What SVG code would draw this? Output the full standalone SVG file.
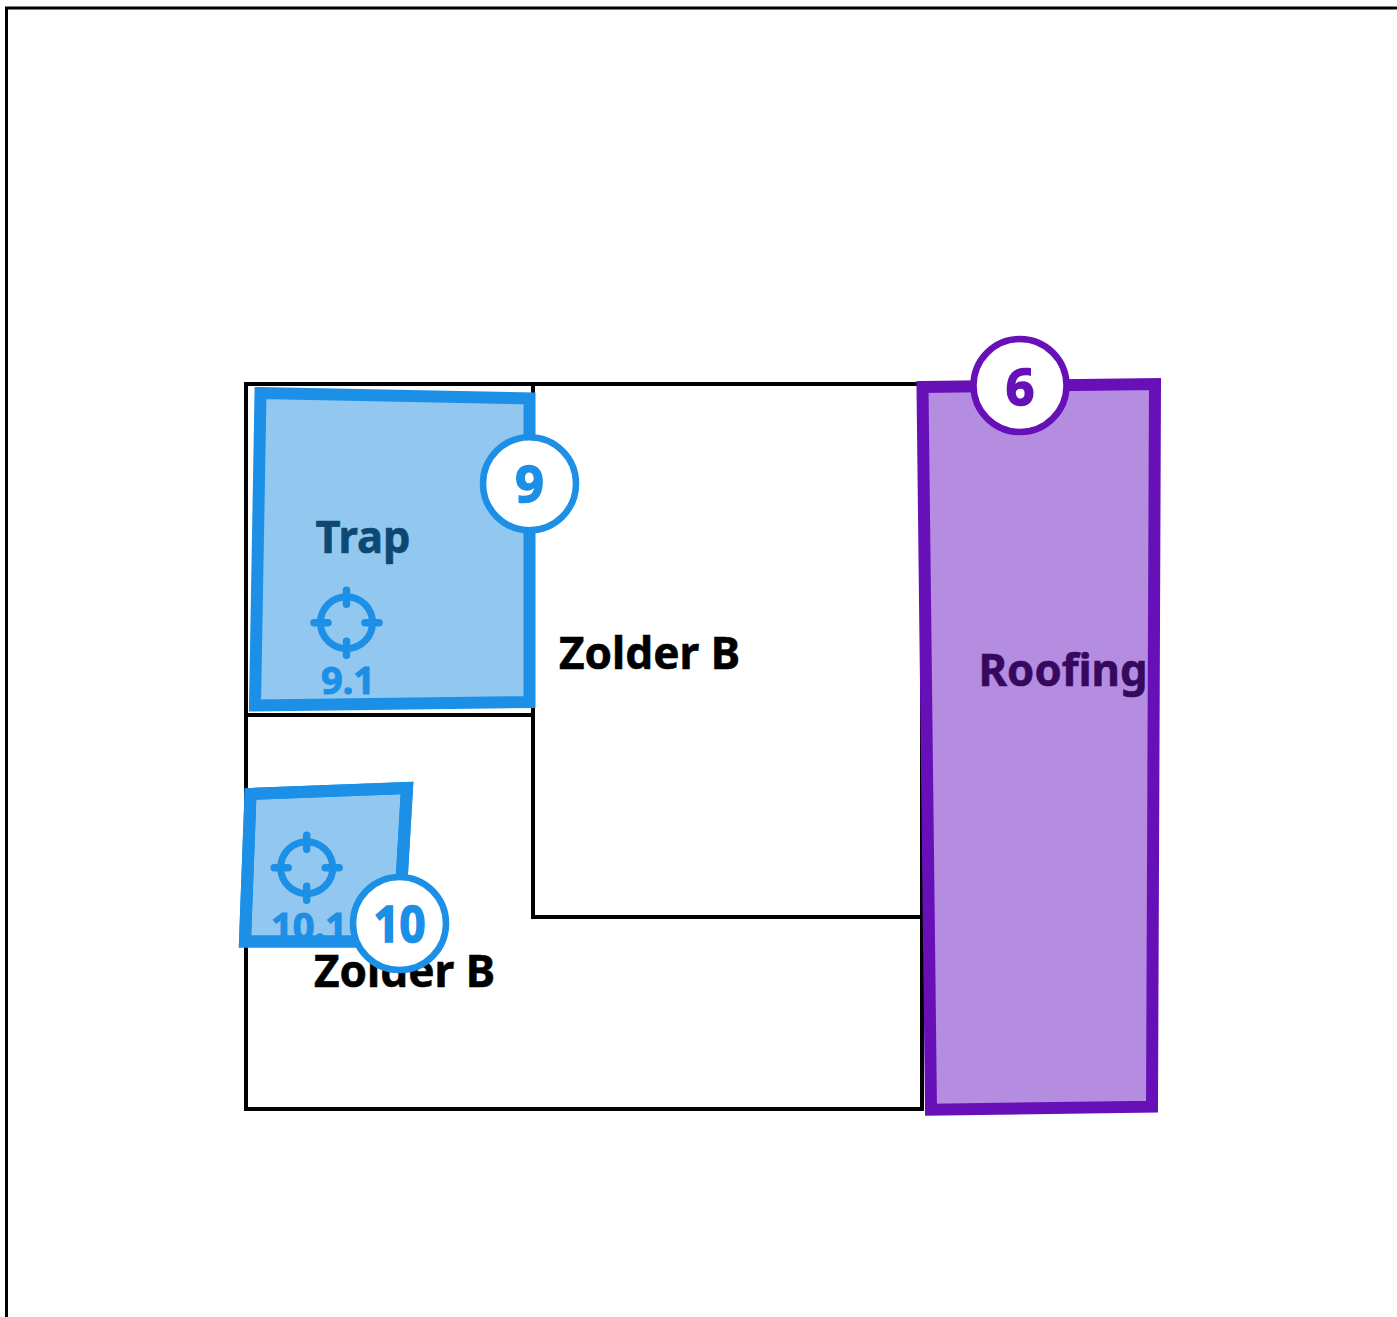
<svg xmlns="http://www.w3.org/2000/svg" width="1397" height="1317" viewBox="0 0 1397 1317">
<style>
text{font-family:"Noto Sans","Open Sans","Liberation Sans",sans-serif;font-weight:700;stroke-width:.6;paint-order:stroke}
.room{fill:#fff;stroke:#000;stroke-width:4}
.blue{fill:#92c8f0;stroke:#1c8fe6;stroke-width:12}
.purple{fill:#b48ce0;stroke:#6810b8;stroke-width:12}
.ring{fill:#fff;stroke-width:6.5}
.lbl{font-size:45px;fill:#000;stroke:#000}
.num{font-size:50px;text-anchor:middle;stroke-width:1.6}
.tgt{fill:none;stroke:#1c8fe6;stroke-width:7}
.tick{stroke:#1c8fe6;stroke-width:7.500;stroke-linecap:round}
.sub{font-size:38px;fill:#1c8fe6;stroke:#1c8fe6;stroke-width:1;text-anchor:middle}
</style>
<defs>
<g id="target">
<circle class="tgt" r="26"/>
<path class="tick" d="M0-32.500V-18.500M0 32.500V18.500M-32.500 0H-18.500M32.500 0H18.500"/>
</g>
</defs>
<rect id="frame" x="6.500" y="8" width="1500" height="1500" fill="#fff" stroke="#000" stroke-width="3"/>
<g id="room-trap"><rect class="room" x="246" y="384" width="287" height="331"/></g>
<g id="room-zolder-b-upper"><rect class="room" x="533" y="384" width="389" height="533"/></g>
<g id="room-zolder-b-lower"><path class="room" d="M246 715H533V917H922V1109H246Z"/></g>
<g id="label-zolder-1"><text class="lbl" x="559" y="669" textLength="181" lengthAdjust="spacingAndGlyphs">Zolder B</text></g>
<g id="zone-9">
<polygon class="blue" points="260.500,393 529.500,398.500 529.500,702 255,705.500"/>
<text class="lbl" x="315.500" y="553" textLength="95" lengthAdjust="spacingAndGlyphs" style="fill:#0e4872;stroke:#0e4872">Trap</text>
<use href="#target" x="346.500" y="622.700"/>
<text class="sub" x="348" y="694">9.1</text>
</g>
<g id="zone-10">
<polygon class="blue" points="250.500,794 407,788 398,941.500 245,941.500" />
<use href="#target" x="306.700" y="867.700"/>
<text class="sub" x="309" y="940">10.1</text>
<polygon points="250.500,794 407,788 398,941.500 245,941.500" fill="none" stroke="#1c8fe6" stroke-width="12"/>
</g>
<g id="label-zolder-2"><text class="lbl" x="314" y="987" textLength="181" lengthAdjust="spacingAndGlyphs">Zolder B</text></g>
<g id="zone-6">
<polygon class="purple" points="922.500,387 1155,384 1152,1106.700 931,1109.700"/>
<text class="lbl" x="978.500" y="686" textLength="169" lengthAdjust="spacingAndGlyphs" style="fill:#36085f;stroke:#36085f">Roofing</text>
</g>
<g id="badge-9"><circle class="ring" cx="529.500" cy="483.700" r="46.500" stroke="#1c8fe6"/><text class="num" x="529.500" y="501.500" fill="#1c8fe6" stroke="#1c8fe6">9</text></g>
<g id="badge-10"><circle class="ring" cx="399.500" cy="923.500" r="46.500" stroke="#1c8fe6"/><text class="num" x="399.500" y="941.500" textLength="52" lengthAdjust="spacingAndGlyphs" fill="#1c8fe6" stroke="#1c8fe6">10</text></g>
<g id="badge-6"><circle class="ring" cx="1020" cy="385.500" r="46.500" stroke="#6810b8"/><text class="num" x="1020" y="404.500" fill="#6810b8" stroke="#6810b8">6</text></g>
<g id="connectors"/>
</svg>
